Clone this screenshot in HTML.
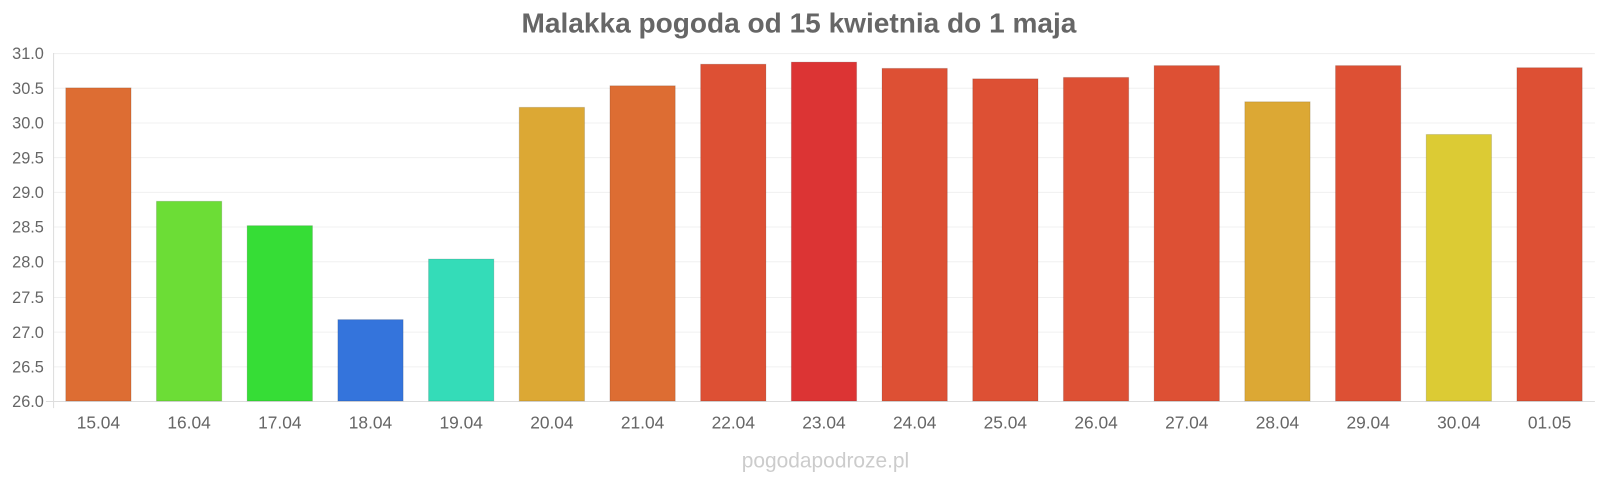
<!DOCTYPE html>
<html><head><meta charset="utf-8"><style>
body{margin:0;background:#fff;}
svg{display:block;font-family:"Liberation Sans",Arial,sans-serif;}
</style></head><body>
<svg width="1600" height="480" viewBox="0 0 1568 470.4" xmlns="http://www.w3.org/2000/svg">
<text x="783" y="32" text-anchor="middle" font-size="27.5" font-weight="bold" fill="#666">Malakka pogoda od 15 kwietnia do 1 maja</text>
<g stroke="#f0f0f0" stroke-width="1">
<line x1="52" x2="1563" y1="52.5" y2="52.5"/><line x1="52" x2="1563" y1="86.5" y2="86.5"/>
<line x1="52" x2="1563" y1="120.5" y2="120.5"/><line x1="52" x2="1563" y1="154.5" y2="154.5"/>
<line x1="52" x2="1563" y1="188.5" y2="188.5"/><line x1="52" x2="1563" y1="222.5" y2="222.5"/>
<line x1="52" x2="1563" y1="256.5" y2="256.5"/><line x1="52" x2="1563" y1="291.5" y2="291.5"/>
<line x1="52" x2="1563" y1="325.5" y2="325.5"/><line x1="52" x2="1563" y1="359.5" y2="359.5"/>
</g>
<line x1="52.5" x2="52.5" y1="52" y2="400" stroke="#ddd"/>
<line x1="45" x2="1563" y1="393.5" y2="393.5" stroke="#ddd"/>
<g font-size="16" fill="#666" text-anchor="end">
<text x="43" y="58">31.0</text><text x="43" y="92">30.5</text><text x="43" y="126">30.0</text>
<text x="43" y="160">29.5</text><text x="43" y="194">29.0</text><text x="43" y="228">28.5</text>
<text x="43" y="262">28.0</text><text x="43" y="297">27.5</text><text x="43" y="331">27.0</text>
<text x="43" y="365">26.5</text><text x="43" y="399">26.0</text>
</g>
<g id="bars" stroke-width="1"></g>
<g id="labels" font-size="17" fill="#666" text-anchor="middle"></g>
<text x="809" y="458" text-anchor="middle" font-size="20.5" fill="#ccc">pogodapodroze.pl</text>
<script>
var d=[["15.04",30.5,"#dd6d33"],["16.04",28.87,"#6cdd36"],["17.04",28.52,"#36dd36"],["18.04",27.17,"#3474dc"],["19.04",28.04,"#34dcb8"],["20.04",30.22,"#dca834"],["21.04",30.53,"#dd6d33"],["22.04",30.84,"#dd5034"],["23.04",30.87,"#dc3434"],["24.04",30.78,"#dd5034"],["25.04",30.63,"#dd5034"],["26.04",30.65,"#dd5034"],["27.04",30.82,"#dd5034"],["28.04",30.3,"#dca834"],["29.04",30.82,"#dd5034"],["30.04",29.83,"#dccb34"],["01.05",30.79,"#dd5034"]];
var ns="http://www.w3.org/2000/svg",b=document.getElementById("bars"),l=document.getElementById("labels");
var cw=(1563-52)/17;
d.forEach(function(e,i){var cx=52+cw*(i+0.5),y=393-(e[1]-26)*68.2;
var r=document.createElementNS(ns,"rect");r.setAttribute("x",cx-32);r.setAttribute("y",y);r.setAttribute("width",64);r.setAttribute("height",393-y);r.setAttribute("fill",e[2]);r.setAttribute("stroke","rgba(0,0,0,0.12)");b.appendChild(r);
var t=document.createElementNS(ns,"text");t.setAttribute("x",cx);t.setAttribute("y",420);t.textContent=e[0];l.appendChild(t);});
</script>
</svg>
</body></html>
